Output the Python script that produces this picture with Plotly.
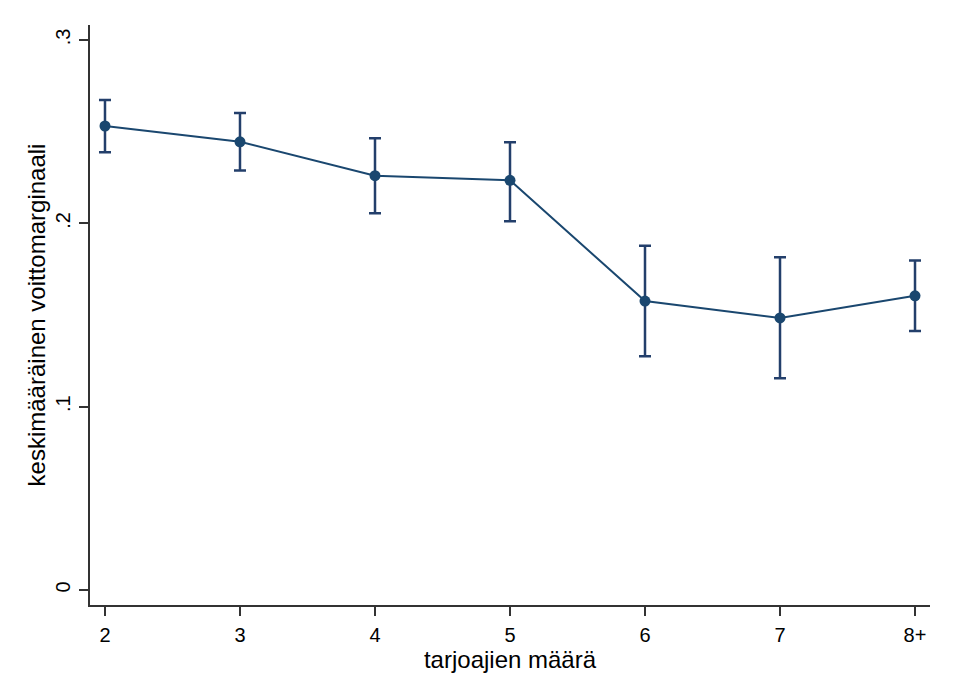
import plotly.graph_objects as go

categories = ["2", "3", "4", "5", "6", "7", "8+"]
mean_margin = [0.2531, 0.2445, 0.2260, 0.2235, 0.1576, 0.1484, 0.1605]
ci_upper = [0.2673, 0.2602, 0.2464, 0.2442, 0.1878, 0.1815, 0.1798]
ci_lower = [0.2388, 0.2289, 0.2055, 0.2011, 0.1275, 0.1155, 0.1413]
y_tickvals = [0, 0.1, 0.2, 0.3]
y_ticktext = ["0", ".1", ".2", ".3"]

err_plus = [u - m for u, m in zip(ci_upper, mean_margin)]
err_minus = [m - l for m, l in zip(mean_margin, ci_lower)]

navy = "#1a476f"
font_family = "Arial, Liberation Sans, sans-serif"

fig = go.Figure()
fig.add_trace(go.Scatter(
    x=categories, y=mean_margin,
    mode="lines+markers",
    line=dict(color=navy, width=2),
    marker=dict(color=navy, size=11),
    error_y=dict(type="data", array=err_plus, arrayminus=err_minus,
                 color="#233f6b", thickness=2.5, width=6, visible=True),
    showlegend=False,
))

fig.update_layout(
    width=957, height=696,
    margin=dict(l=82, r=35, t=17, b=99),
    paper_bgcolor="white", plot_bgcolor="white",
    font=dict(family=font_family, color="black"),
)
fig.update_xaxes(
    type="category", range=[-0.111, 6.111],
    showgrid=False, zeroline=False,
    showline=True, linecolor="#333333", linewidth=1.5,
    ticks="outside", ticklen=9, tickwidth=1.5, tickcolor="#333333",
    tickfont=dict(size=20), ticklabelstandoff=2,
    title=dict(text="tarjoajien määrä", font=dict(size=24), standoff=0),
)
fig.update_yaxes(
    range=[-0.00818, 0.3082],
    tickvals=y_tickvals, ticktext=y_ticktext, tickangle=-90,
    showgrid=False, zeroline=False,
    showline=True, linecolor="#333333", linewidth=1.5,
    ticks="outside", ticklen=9, tickwidth=1.5, tickcolor="#333333",
    tickfont=dict(size=20), ticklabelstandoff=1,
    title=dict(text="keskimääräinen voittomarginaali", font=dict(size=24), standoff=0),
)

fig.write_html("out.html")
